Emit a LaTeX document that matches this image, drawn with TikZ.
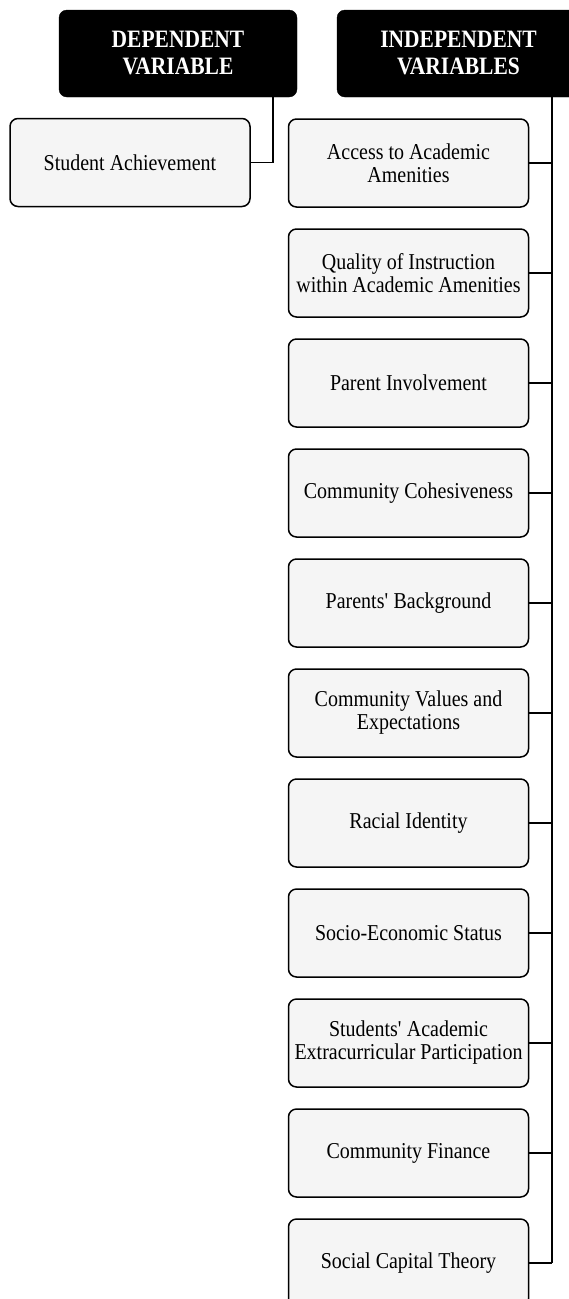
\documentclass[tikz,border=0pt]{standalone}
\usepackage{fontspec}
\setmainfont{Liberation Serif}
% narrow, tall setting of the serif face
\newfontfamily\tallserif[FakeStretch=0.88]{Liberation Serif}
\newfontfamily\tallbold[FakeStretch=0.86,UprightFont={* Bold}]{Liberation Serif}
\begin{document}
\begin{tikzpicture}[x=1pt,y=-1pt,
  header/.style={draw=black,fill=black,text=white,rounded corners=8pt,
    minimum width=238pt,minimum height=87pt,align=center,
    font=\tallbold\fontsize{25}{27}\selectfont},
  varbox/.style={draw=black,line width=1.5pt,fill=black!4,rounded corners=8pt,
    minimum width=240pt,minimum height=88pt,align=center,inner sep=2pt,
    font=\tallserif\fontsize{22.7}{23}\selectfont},
  link/.style={draw=black,line width=1.6pt},
  trunkline/.style={draw=black,line width=2.4pt}]
\path[use as bounding box,clip] (0,0) rectangle (569,1299);
\fill[white] (0,0) rectangle (569,1299);

% column headers
\node[header] (dh) at (178,53.5) {DEPENDENT\\VARIABLE};
\node[header,minimum width=243pt] (ih) at (458.5,53.5) {INDEPENDENT\\VARIABLES};

% dependent variable
\node[varbox] (sa) at (130,162.5) {Student Achievement};

% independent variables
\node[varbox] (b1)  at (408.5,163)  {Access to Academic\\Amenities};
\node[varbox] (b2)  at (408.5,273)  {Quality of Instruction\\within Academic Amenities};
\node[varbox] (b3)  at (408.5,383)  {Parent Involvement};
\node[varbox] (b4)  at (408.5,493)  {Community Cohesiveness};
\node[varbox] (b5)  at (408.5,603)  {Parents\textquotesingle\ Background};
\node[varbox] (b6)  at (408.5,713)  {Community Values and\\Expectations};
\node[varbox] (b7)  at (408.5,823)  {Racial Identity};
\node[varbox] (b8)  at (408.5,933)  {Socio-Economic Status};
\node[varbox] (b9)  at (408.5,1043) {Students\textquotesingle\ Academic\\Extracurricular Participation};
\node[varbox] (b10) at (408.5,1153) {Community Finance};
\node[varbox] (b11) at (408.5,1263) {Social Capital Theory};

% connectors
\coordinate (djoin) at (273,0);
\coordinate (trunk) at (552,0);
\draw[link] (sa.east) -| (djoin |- dh.south);
\draw[trunkline] (trunk |- ih.south) -- (trunk |- b11.east);
\foreach \b in {b1,b2,b3,b4,b5,b6,b7,b8,b9,b10,b11}
  \draw[link] (\b.east) -- (trunk |- \b.east);
\end{tikzpicture}
\end{document}
